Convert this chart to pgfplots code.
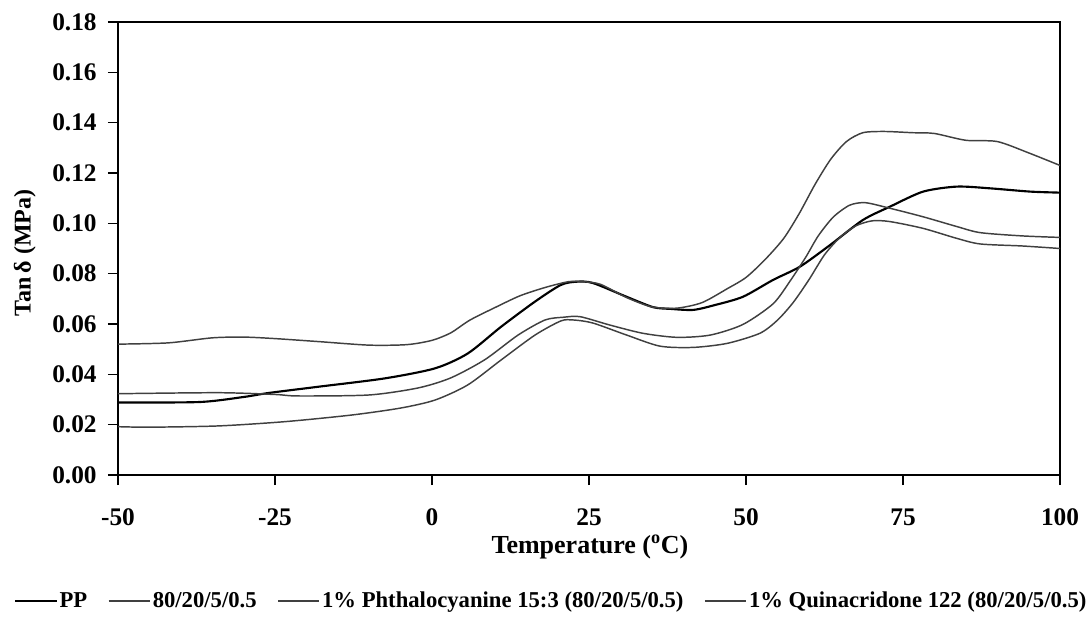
\documentclass[border=0pt]{standalone}
\usepackage{pgfplots}
\pgfplotsset{compat=1.18}
\usepackage{fontspec}
\setmainfont{Liberation Serif}
\begin{document}
\begin{tikzpicture}
\begin{axis}[
  at={(0,0)}, anchor=south west,
  scale only axis, width=706.5pt, height=339.75pt,
  xmin=-50, xmax=100, ymin=0, ymax=0.18,
  xtick={-50,-25,0,25,50,75,100},
  ytick={0,0.02,0.04,0.06,0.08,0.10,0.12,0.14,0.16,0.18},
  tick align=outside, xtick pos=left, ytick pos=left,
  major tick length=7.5pt,
  axis line style={black, line width=1pt},
  tick style={black, line width=0.8pt},
  /pgf/number format/assume math mode=true,
  y tick label style={/pgf/number format/fixed, /pgf/number format/fixed zerofill, /pgf/number format/precision=2},
  ticklabel style={font=\fontsize{19}{22}\selectfont\bfseries},
  xticklabel style={anchor=center, yshift=-24pt},
  yticklabel style={anchor=east, xshift=-5pt},
  xlabel={Temperature (\textsuperscript{o}C)},
  ylabel={Tan\,δ (MPa)},
  label style={font=\fontsize{18}{21}\selectfont\bfseries},
  xlabel style={at={(axis description cs:0.501,-0.159)}, anchor=center, font=\fontsize{19.5}{22}\selectfont\bfseries},
  ylabel style={at={(axis description cs:-0.099,0.49)}, anchor=center},
  legend columns=4,
  legend style={draw=none, at={(0.46,-0.278)}, anchor=center,
    font=\fontsize{17}{20}\selectfont\bfseries,
    nodes={inner sep=1.5pt},
    /tikz/every even column/.append style={column sep=14pt}},
  legend image code/.code={\draw[#1] (0pt,0pt) -- (31pt,0pt);},
  every axis plot/.append style={smooth, tension=0.45},
]
% PP
\addplot[black, line width=1.6pt] coordinates {
(-50,0.0288) (-37,0.029) (-30,0.031) (-26,0.0326) (-18,0.0351) (-7.5,0.0384)
(0.5,0.0424) (5.7,0.0483) (11,0.0589) (16.4,0.0689) (20.5,0.0755) (23,0.0768)
(25.6,0.0763) (31,0.0708) (35.2,0.0667) (38,0.066) (41.6,0.0656) (45,0.0675)
(49.5,0.0708) (54.3,0.0775) (58.6,0.0828) (63.4,0.0914) (68.6,0.1013)
(72.9,0.1066) (78.2,0.1126) (83.6,0.1146) (88.9,0.1139) (95.3,0.1126) (100,0.1122)
};
\addlegendentry{PP}
% 80/20/5/0.5
\addplot[black!75, line width=1.1pt] coordinates {
(-50,0.052) (-42,0.0525) (-35,0.0545) (-30,0.0548) (-25,0.0542) (-18,0.053)
(-10,0.0516) (-4,0.0518) (0,0.0535) (3,0.0565) (6,0.0615) (10,0.0665)
(14,0.0712) (18,0.0745) (21.7,0.0768) (24,0.0768) (26.8,0.0758) (31,0.0705)
(35,0.0668) (39,0.0663) (43,0.0685) (47,0.074) (50,0.0785) (53,0.0855)
(56,0.094) (58.5,0.104) (61,0.1155) (63.5,0.1255) (66,0.1325) (68.6,0.136) (72,0.1365)
(76.6,0.136) (80,0.1357) (85,0.133) (90,0.1325) (95,0.128) (100,0.123)
};
\addlegendentry{80/20/5/0.5}
% Phthalocyanine
\addplot[black!75, line width=1.1pt] coordinates {
(-50,0.0323) (-34,0.0327) (-25,0.032) (-21.3,0.0314) (-10,0.0318) (-2.2,0.0346)
(3,0.0386) (8.4,0.0458) (13.7,0.0556) (18,0.0616) (21,0.0627) (23.6,0.0629)
(28.3,0.0596) (33.6,0.0563) (39,0.0547) (44.3,0.0556) (49.5,0.0598) (54.3,0.068)
(57,0.077) (59.5,0.0865) (61.5,0.095) (63.9,0.1025) (66.5,0.1072) (69,0.1082)
(72.9,0.106) (78.2,0.1026) (83.6,0.0987) (87.3,0.0963) (94,0.095) (100,0.0944)
};
\addlegendentry{1\% Phthalocyanine 15:3 (80/20/5/0.5)}
% Quinacridone
\addplot[black!75, line width=1.1pt] coordinates {
(-50,0.0192) (-45,0.019) (-34,0.0195) (-23.4,0.0212) (-12.9,0.0238) (-5,0.0266)
(0.5,0.0298) (5.7,0.0358) (11,0.0457) (16.4,0.0556) (20.5,0.0612) (22.5,0.0616)
(25.6,0.0604) (31,0.0556) (36.3,0.0512) (41.6,0.0507) (47,0.0523) (52.2,0.0563)
(55,0.0615) (57.5,0.0685) (60,0.0775) (62.5,0.0875) (65,0.0945) (67.5,0.099) (70.1,0.101)
(72.9,0.1007) (78.2,0.098) (83.6,0.094) (87.3,0.0918) (94,0.091) (100,0.090)
};
\addlegendentry{1\% Quinacridone 122 (80/20/5/0.5)}
\end{axis}
\pgfresetboundingbox
\path (-88.5pt,-106.5pt) rectangle (727.5pt,356.25pt);
\end{tikzpicture}
\end{document}
